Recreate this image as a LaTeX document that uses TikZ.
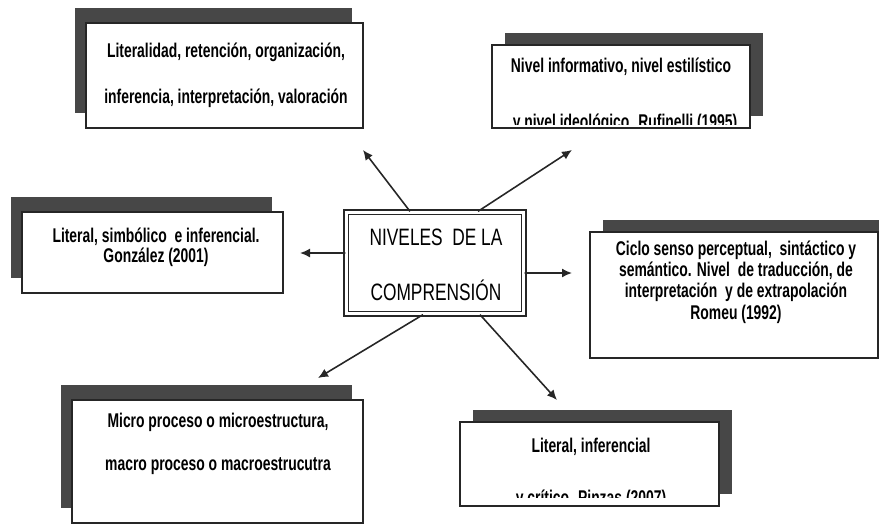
\documentclass[tikz,border=0pt]{standalone}
\usepackage{fontspec}
\setmainfont{Liberation Sans}
\newfontfamily\estrecha[FakeStretch=0.7]{Liberation Sans}
\newfontfamily\central[FakeStretch=0.73]{Liberation Sans}
\usetikzlibrary{shadows,arrows.meta}

\begin{document}
\begin{tikzpicture}[x=0.02cm,y=-0.02cm,
    caja/.style={draw=black!85,line width=0.9pt,fill=white,inner sep=0pt},
    sombraizq/.style={drop shadow={shadow xshift=-0.22cm,shadow yshift=0.3cm,fill=black!72,opacity=1}},
    sombrader/.style={drop shadow={shadow xshift=0.26cm,shadow yshift=0.24cm,fill=black!72,opacity=1}},
    texto/.style={align=center,inner sep=0pt,font=\estrecha\bfseries\fontsize{11.3}{#1}\selectfont},
    texto/.default=13,
    flecha/.style={-{Latex[length=0.2cm,width=0.18cm]},line width=0.9pt,black!85}]
  \useasboundingbox (0,0) rectangle (879,525);
  % caja central
  \node[draw=black!85,line width=0.75pt,double=white,double distance=0.06cm,
        minimum width=3.56cm,minimum height=2.04cm,inner sep=0pt] (niv) at (435,263) {};
  \node[align=center,inner sep=0pt,font=\central\fontsize{13.5}{31}\selectfont] (nivt) at (436,265)
    {NIVELES\ \ DE LA\\COMPRENSIÓN};
  % arriba izquierda
  \node[caja,sombraizq,minimum width=5.54cm,minimum height=2.1cm] (lit) at (224.5,75.5) {};
  \node[texto=26] (litt) at (226,75)
    {Literalidad, retención, organización,\\inferencia, interpretación, valoración};
  % arriba derecha
  \node[caja,sombrader,minimum width=5.16cm,minimum height=1.66cm] (inf) at (621,86.5) {};
  \node[texto] (infa) at (621,67) {Nivel informativo, nivel estilístico};
  \begin{scope}
    \clip ([yshift=0.08cm]inf.south west) rectangle (inf.north east);
    \node[texto] (infb) at (625,123) {y nivel ideológico. Rufinelli (1995)};
  \end{scope}
  % izquierda
  \node[caja,sombraizq,minimum width=5.22cm,minimum height=1.62cm] (sim) at (152.5,252.5) {};
  \node[texto=11.6] (simt) at (156,247)
    {Literal, simbólico\ \ e inferencial.\\González (2001)};
  % derecha
  \node[caja,sombrader,minimum width=5.76cm,minimum height=2.52cm] (cic) at (734,295) {};
  \node[texto=12.2] (cict) at (736,282)
    {Ciclo senso perceptual,\ \ sintáctico y\\semántico. Nivel\ \ de traducción, de\\interpretación\ \ y de extrapolación\\Romeu (1992)};
  % abajo izquierda
  \node[caja,sombraizq,minimum width=5.82cm,minimum height=2.46cm] (mic) at (217.5,461.5) {};
  \node[texto=24.5] (mict) at (218,443.5)
    {Micro proceso o microestructura,\\macro proceso o macroestrucutra};
  % abajo derecha
  \node[caja,sombrader,minimum width=5.18cm,minimum height=1.68cm] (crit) at (589.5,464) {};
  \node[texto] (crita) at (591,447) {Literal, inferencial};
  \begin{scope}
    \clip ([yshift=0.18cm]crit.south west) rectangle (crit.north east);
    \node[texto] (critb) at (591,499) {y crítico. Pinzas (2007)};
  \end{scope}
  % flechas
  \coordinate (f1) at (363,150);
  \coordinate (f2) at (572,150);
  \coordinate (f3) at (300,253);
  \coordinate (f4) at (572,273);
  \coordinate (f5) at (318,378);
  \coordinate (f6) at (557,400);
  \draw[flecha] ([xshift=-0.5cm]niv.north) -- (f1);
  \draw[flecha] ([xshift=0.86cm]niv.north) -- (f2);
  \draw[flecha] ([yshift=0.2cm]niv.west) -- (f3);
  \draw[flecha] ([yshift=-0.2cm]niv.east) -- (f4);
  \draw[flecha] ([xshift=-0.24cm]niv.south) -- (f5);
  \draw[flecha] ([xshift=0.9cm]niv.south) -- (f6);
\end{tikzpicture}
\end{document}
